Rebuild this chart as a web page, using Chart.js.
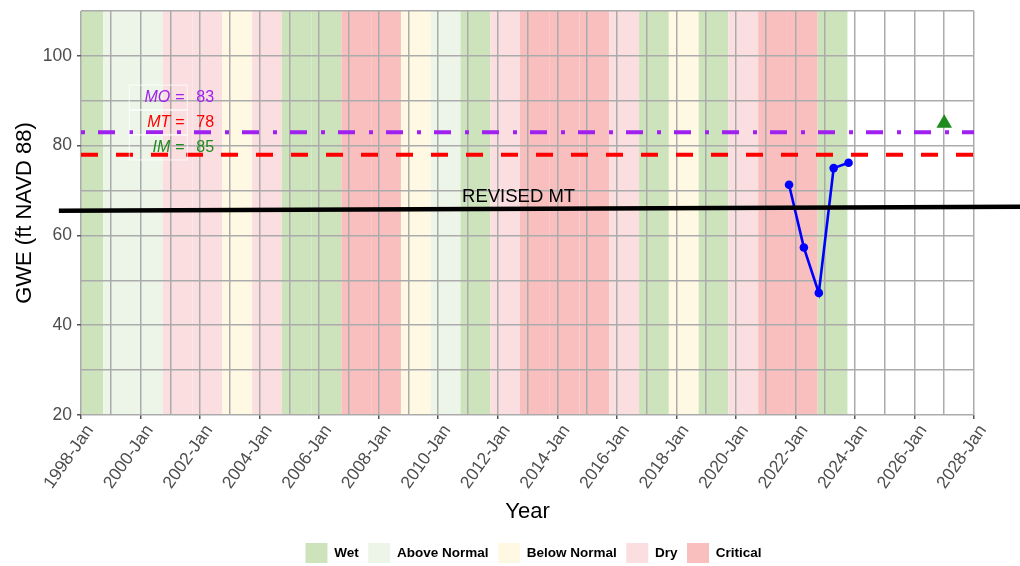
<!DOCTYPE html>
<html>
<head>
<meta charset="utf-8">
<title>GWE</title>
<script src="https://cdn.jsdelivr.net/npm/chart.js@4.4.1/dist/chart.umd.min.js"></script>
<style>
  html, body { margin: 0; padding: 0; background: #fff; }
  #wrap { width: 1020px; height: 566px; }
</style>
</head>
<body>
<div id="wrap"><canvas id="gweChart" width="1020" height="566"></canvas></div>
<script>
// water year classification (WY runs Oct 1 of previous year -> Sep 30)
const waterYears = [1998, 1999, 2000, 2001, 2002, 2003, 2004, 2005, 2006, 2007, 2008, 2009, 2010,
                    2011, 2012, 2013, 2014, 2015, 2016, 2017, 2018, 2019, 2020, 2021, 2022, 2023];
const waterYearTypes = ['Wet', 'Above Normal', 'Above Normal', 'Dry', 'Dry', 'Below Normal', 'Dry',
                        'Wet', 'Wet', 'Critical', 'Critical', 'Below Normal', 'Above Normal', 'Wet',
                        'Dry', 'Critical', 'Critical', 'Critical', 'Dry', 'Wet', 'Below Normal', 'Wet',
                        'Dry', 'Critical', 'Critical', 'Wet'];
const yearTypeNames = ['Wet', 'Above Normal', 'Below Normal', 'Dry', 'Critical'];
const yearTypeColors = ['#cce3bb', '#edf5e8', '#fff8e2', '#fbdfe0', '#f9bfbf'];

// groundwater elevation measurements
const gweDates = ['2021-10-15', '2022-04-15', '2022-10-15', '2023-04-15', '2023-10-15'];
const gweValues = [71.3, 57.3, 47.2, 75.0, 76.2];

// thresholds
const moValue = 83;
const mtValue = 78;
const imDate = '2027-01-01';
const imValue = 85;
const revisedMtDates = ['1997-04-05', '2029-07-20'];
const revisedMtValues = [65.5, 66.4];

const yearTicks = [1998, 2000, 2002, 2004, 2006, 2008, 2010, 2012, 2014, 2016, 2018, 2020, 2022, 2024, 2026, 2028];
const gweTicks = [20, 40, 60, 80, 100];

const FONT = "'Liberation Sans', Arial, sans-serif";
Chart.defaults.font.family = FONT;

function toYear(s) {
    const [y, m, d] = s.split('-').map(Number);
    const start = Date.UTC(y, 0, 1);
    const end = Date.UTC(y + 1, 0, 1);
    return y + (Date.UTC(y, m - 1, d) - start) / (end - start);
}

const xMin = yearTicks[0];
const xMax = yearTicks[yearTicks.length - 1];

const bandsPlugin = {
    id: 'bands',
    afterLayout(chart) {
        // nudge the legend a little to the right
        chart.legend.left += 6;
        chart.legend.right += 6;
    },
    beforeDraw(chart) {
        const { ctx, chartArea, scales } = chart;
        ctx.save();
        ctx.fillStyle = '#fff';
        ctx.fillRect(0, 0, chart.width, chart.height);
        waterYears.forEach((wy, i) => {
            const x0 = scales.x.getPixelForValue(Math.max(toYear(`${wy - 1}-10-01`), xMin));
            const x1 = scales.x.getPixelForValue(toYear(`${wy}-10-01`));
            ctx.fillStyle = yearTypeColors[yearTypeNames.indexOf(waterYearTypes[i])];
            ctx.fillRect(x0, chartArea.top, x1 - x0, chartArea.bottom - chartArea.top);
        });
        ctx.restore();
    }
};

// threshold labels in the upper left plus the revised MT caption
const labelsPlugin = {
    id: 'labels',
    afterDatasetsDraw(chart) {
        const { ctx, scales } = chart;
        const ax = scales.x.getPixelForValue(2001.0);
        const rows = [
            { name: 'MO', value: moValue, color: '#a020f0', y: 90.7 },
            { name: 'MT', value: mtValue, color: '#ff0000', y: 85.2 },
            { name: 'IM', value: imValue, color: '#1e8b1e', y: 79.6 }
        ];
        ctx.save();
        ctx.textBaseline = 'middle';
        rows.forEach(r => {
            const cy = scales.y.getPixelForValue(r.y);
            ctx.strokeStyle = 'rgba(255,255,255,0.75)';
            ctx.lineWidth = 1;
            ctx.strokeRect(ax - 41, cy - 12.5, 58, 25);
            ctx.fillStyle = r.color;
            ctx.font = `italic 16px ${FONT}`;
            ctx.textAlign = 'right';
            ctx.fillText(r.name, ax, cy);
            ctx.font = `16px ${FONT}`;
            ctx.textAlign = 'left';
            ctx.fillText('=', ax + 5, cy);
            ctx.fillText(String(r.value), ax + 26, cy);
        });
        ctx.fillStyle = '#000';
        ctx.font = `18.5px ${FONT}`;
        ctx.textAlign = 'center';
        ctx.textBaseline = 'alphabetic';
        ctx.fillText('REVISED MT', scales.x.getPixelForValue(2012.7), scales.y.getPixelForValue(67.4));
        ctx.restore();
    }
};

const hline = (v) => [{ x: xMin, y: v }, { x: xMax, y: v }];

new Chart(document.getElementById('gweChart'), {
    type: 'line',
    data: {
        datasets: [
            {
                label: 'Revised MT',
                data: revisedMtDates.map((d, i) => ({ x: toYear(d), y: revisedMtValues[i] })),
                borderColor: '#000',
                borderWidth: 4.5,
                pointRadius: 0,
                clip: false
            },
            {
                label: 'IM',
                data: [{ x: toYear(imDate), y: imValue }],
                showLine: false,
                pointStyle: 'triangle',
                pointRadius: 9,
                pointBorderWidth: 0,
                backgroundColor: '#1e8b1e',
                borderColor: '#1e8b1e'
            },
            {
                label: 'GWE',
                data: gweDates.map((d, i) => ({ x: toYear(d), y: gweValues[i] })),
                borderColor: '#0000ff',
                backgroundColor: '#0000ff',
                borderWidth: 2.6,
                pointRadius: 4.3,
                pointBorderWidth: 0
            },
            {
                label: 'MO',
                data: hline(moValue),
                borderColor: '#a020f0',
                borderWidth: 4,
                borderDash: [4, 13, 17, 14],
                borderCapStyle: 'butt',
                pointRadius: 0
            },
            {
                label: 'MT',
                data: hline(mtValue),
                borderColor: '#ff0000',
                borderWidth: 4,
                borderDash: [17, 18],
                borderCapStyle: 'butt',
                pointRadius: 0
            }
        ]
    },
    options: {
        responsive: false,
        animation: false,
        events: [],
        layout: { padding: { top: 11, right: 46, bottom: -7, left: 0 } },
        scales: {
            x: {
                type: 'linear',
                min: xMin,
                max: xMax,
                afterFit: (scale) => { scale.height = 118.5; },
                ticks: {
                    stepSize: 1,
                    autoSkip: false,
                    minRotation: 55,
                    maxRotation: 55,
                    padding: 2,
                    labelOffset: 9,
                    color: '#4d4d4d',
                    font: { size: 17.5 },
                    callback: (v) => yearTicks.includes(v) ? `${v}-Jan` : ''
                },
                grid: {
                    color: '#ababab',
                    lineWidth: 1.5,
                    tickLength: 4,
                    tickColor: (c) => yearTicks.includes(c.tick.value) ? '#555' : 'rgba(0,0,0,0)'
                },
                border: { display: false },
                title: {
                    display: true,
                    text: 'Year',
                    color: '#000',
                    font: { size: 22 },
                    padding: { top: 0, bottom: 8 }
                }
            },
            y: {
                min: 20,
                max: 110,
                afterFit: (scale) => {
                    scale.width = 81;
                    scale.paddingTop = 0;
                    scale.paddingBottom = 0;
                },
                ticks: {
                    stepSize: 10,
                    padding: 5,
                    color: '#4d4d4d',
                    font: { size: 17.5 },
                    callback: (v) => gweTicks.includes(v) ? String(v) : ''
                },
                grid: {
                    color: '#ababab',
                    lineWidth: 1.5,
                    tickLength: 4,
                    tickColor: (c) => gweTicks.includes(c.tick.value) ? '#555' : 'rgba(0,0,0,0)'
                },
                border: { display: false },
                title: {
                    display: true,
                    text: 'GWE (ft NAVD 88)',
                    color: '#000',
                    font: { size: 22 },
                    padding: { top: 12, bottom: 0 }
                }
            }
        },
        plugins: {
            tooltip: { enabled: false },
            legend: {
                position: 'bottom',
                fullSize: false,
                onClick: null,
                labels: {
                    boxWidth: 22,
                    boxHeight: 20,
                    padding: 9.5,
                    color: '#1a1a1a',
                    font: { size: 13.5, weight: 'bold' },
                    generateLabels: () => yearTypeNames.map((name, i) => ({
                        text: name,
                        fillStyle: yearTypeColors[i],
                        strokeStyle: yearTypeColors[i],
                        lineWidth: 0,
                        hidden: false,
                        datasetIndex: i
                    }))
                }
            }
        }
    },
    plugins: [bandsPlugin, labelsPlugin]
});
</script>
</body>
</html>
